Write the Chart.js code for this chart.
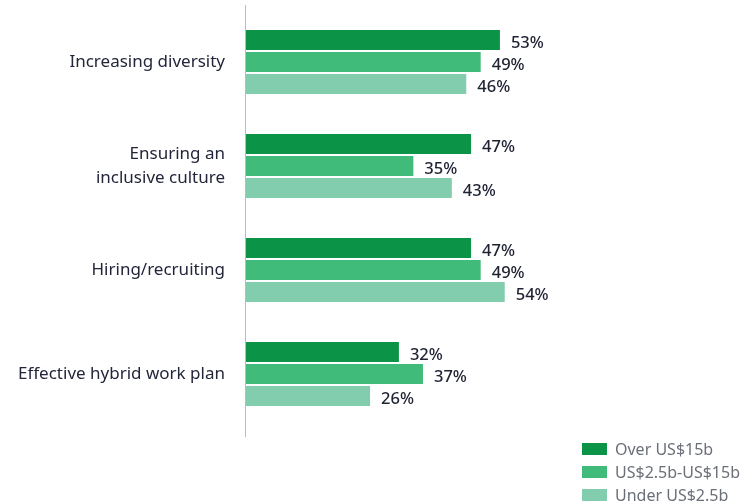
<!DOCTYPE html>
<html>
<head>
<meta charset="utf-8">
<script src="https://cdn.jsdelivr.net/npm/chart.js@4.4.1/dist/chart.umd.min.js"></script>
<style>
  html, body { margin: 0; padding: 0; background: #ffffff; }
  #wrap { position: relative; width: 745px; height: 501px; overflow: hidden; }
  #legend { position: absolute; left: 582px; top: 437px; font-family: "Noto Sans", sans-serif; font-size: 16px; color: #6b6f78; }
  .li { display: flex; align-items: center; height: 23px; }
  .sw { width: 25px; height: 12px; margin-right: 8px; }
</style>
</head>
<body>
<div id="wrap">
  <canvas id="c" width="745" height="501"></canvas>
  <div id="legend"></div>
</div>
<script>
const categories = ["Increasing diversity", ["Ensuring an", "inclusive culture"], "Hiring/recruiting", "Effective hybrid work plan"];
const seriesNames = ["Over US$15b", "US$2.5b-US$15b", "Under US$2.5b"];
const overValues = [53, 47, 47, 32];
const midValues = [49, 35, 49, 37];
const underValues = [46, 43, 54, 26];
const colors = ["#0b9447", "#40bb7a", "#82cdad"];

const valueLabels = {
  id: 'valueLabels',
  afterDatasetsDraw(chart) {
    const ctx = chart.ctx;
    ctx.save();
    ctx.font = '500 16.5px "Noto Sans", sans-serif';
    ctx.fillStyle = '#1f2233';
    ctx.textBaseline = 'middle';
    ctx.textAlign = 'left';
    chart.data.datasets.forEach((ds, di) => {
      chart.getDatasetMeta(di).data.forEach((bar, i) => {
        ctx.fillText(ds.data[i] + '%', bar.x + 11, bar.y + 3);
      });
    });
    ctx.restore();
  }
};
const axisLine = {
  id: 'axisLine',
  afterDraw(chart) {
    const ctx = chart.ctx;
    const x = chart.chartArea.left + 0.5;
    ctx.save();
    ctx.strokeStyle = '#b7bcc4';
    ctx.lineWidth = 1;
    ctx.beginPath();
    ctx.moveTo(x, chart.chartArea.top - 5);
    ctx.lineTo(x, chart.chartArea.bottom + 11);
    ctx.stroke();
    ctx.restore();
  }
};

const chart = new Chart(document.getElementById('c'), {
  type: 'bar',
  data: {
    labels: categories,
    datasets: [
      { label: seriesNames[0], data: overValues, backgroundColor: colors[0] },
      { label: seriesNames[1], data: midValues, backgroundColor: colors[1] },
      { label: seriesNames[2], data: underValues, backgroundColor: colors[2] }
    ]
  },
  options: {
    indexAxis: 'y',
    responsive: false,
    animation: false,
    devicePixelRatio: 1,
    layout: { padding: { left: 0, right: 19, top: 10, bottom: 75 } },
    categoryPercentage: 66 / 104,
    barPercentage: 20 / 22,
    plugins: { legend: { display: false }, tooltip: { enabled: false } },
    scales: {
      x: { display: false, min: 0, max: 100 },
      y: {
        afterFit(scale) { scale.width = 245; scale.paddingTop = 0; scale.paddingBottom = 0; },
        grid: { display: false, drawTicks: false },
        border: { display: false },
        ticks: {
          padding: 20,
          color: '#23263a',
          font: { family: '"Noto Sans", sans-serif', size: 17, lineHeight: 1.38 }
        }
      }
    }
  },
  plugins: [valueLabels, axisLine]
});

const leg = document.getElementById('legend');
seriesNames.forEach((n, i) => {
  const d = document.createElement('div');
  d.className = 'li';
  d.innerHTML = '<span class="sw" style="background:' + colors[i] + '"></span><span>' + n + '</span>';
  leg.appendChild(d);
});
</script>
</body>
</html>
